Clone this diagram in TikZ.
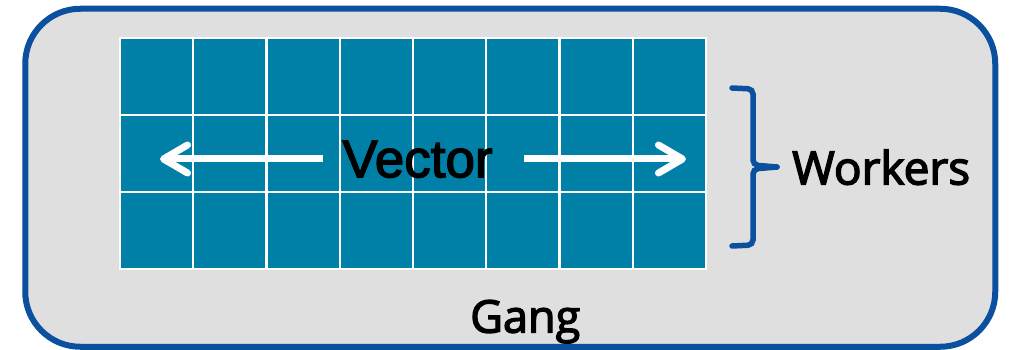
\documentclass[tikz,border=0pt]{standalone}
\usepackage{fontspec}
\usetikzlibrary{positioning}
\usetikzlibrary{arrows.meta}
\newfontfamily\vecfont{Liberation Sans}[FakeBold=2.5]
\newfontfamily\labfont{Open Sans}[FakeBold=3]
\definecolor{gang-blue}{HTML}{0B4F9F}
\definecolor{gang-grey}{HTML}{DFDFDF}
\definecolor{lane-teal}{HTML}{0180A7}
\tikzset{
  gang-box/.style={draw=gang-blue, fill=gang-grey, line width=6pt,
    rounded corners=55pt, minimum width=970pt, minimum height=338pt, inner sep=0pt},
  lane-cell/.style={draw=white, fill=lane-teal, line width=2.2pt,
    minimum width=73.25pt, minimum height=77pt, inner sep=0pt},
  lane-arrow/.style={white, line width=7pt, -{Straight Barb[length=24pt, width=28pt, round]}},
  brace-path/.style={draw=gang-blue, line width=5.5pt, rounded corners=5pt, line cap=round},
  big-label/.style={font=\labfont\fontsize{45}{50}\selectfont, inner sep=0pt, text depth=0pt},
}
\begin{document}
\begin{tikzpicture}[x=1pt, y=-1pt]
\useasboundingbox (0,0) rectangle (1012,350);
% the gang
\node[gang-box] (gang) at (510.25,177.75) {};
% vector lanes x workers
\foreach \row in {0,1,2} {
  \foreach \col in {0,...,7} {
    \node[lane-cell] (cell-\row-\col) at (120+73.25*\col+36.6, 38+77*\row+38.5) {};
  }
}
% vector label and arrows
\node[font=\vecfont\fontsize{53}{60}\selectfont, inner ysep=0pt, inner xsep=19pt, text depth=0pt] (vector) at (417.5,159) {Vector};
\coordinate (vec-left) at (160,159);
\coordinate (vec-right) at (686,159);
\draw[lane-arrow] (vector.west) -- (vec-left);
\draw[lane-arrow, shorten <=12pt] (vector.east) -- (vec-right);
% workers brace
\coordinate (brace-top) at (732,88);
\coordinate (brace-bot) at (732,246);
\coordinate (brace-tip) at (777,167);
\draw[brace-path] (brace-top) -- (753,89) -- (753,165) -- (brace-tip);
\draw[brace-path] (brace-bot) -- (753,245) -- (753,169) -- (brace-tip);
\node[big-label, right=15pt of brace-tip, font=\labfont\fontsize{46}{50}\selectfont] (workers) {Workers};
% gang label
\node[big-label, above=17pt of gang.south, xshift=15pt] (gang-label) {Gang};
\end{tikzpicture}
\end{document}
